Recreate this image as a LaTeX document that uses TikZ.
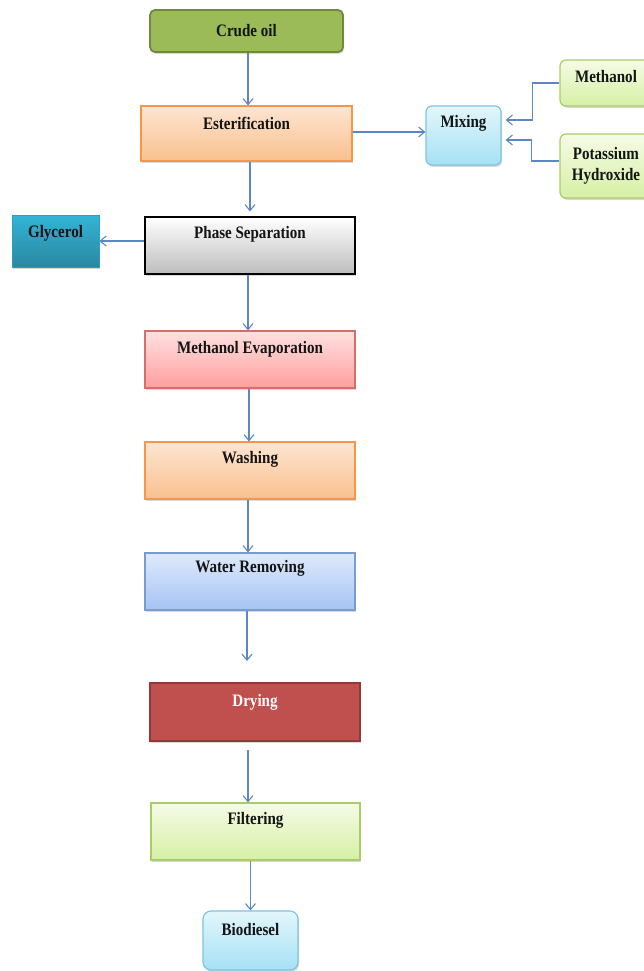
\documentclass[tikz,border=0pt]{standalone}
\usepackage{fontspec}
\setmainfont{Liberation Serif}[FakeStretch=0.86]
\usetikzlibrary{arrows.meta,shadows,calc}
\definecolor{arr}{RGB}{92,134,196}
\definecolor{crudeFill}{HTML}{9BBB59}\definecolor{crudeDraw}{HTML}{71893F}
\definecolor{orTop}{HTML}{FDE5D2}\definecolor{orBot}{HTML}{FAC08E}\definecolor{orDraw}{HTML}{F79646}
\definecolor{mxTop}{HTML}{E2F6FC}\definecolor{mxBot}{HTML}{A6E1F5}\definecolor{mxDraw}{HTML}{80C4DA}
\definecolor{grTop}{HTML}{F5FBE6}\definecolor{grBot}{HTML}{D6F0A4}\definecolor{grDraw}{HTML}{A9CC6B}
\definecolor{glTop}{HTML}{33B4D7}\definecolor{glBot}{HTML}{2A88A0}\definecolor{glDraw}{HTML}{2E9EBD}
\definecolor{gyTop}{HTML}{FFFFFF}\definecolor{gyBot}{HTML}{BDBDBD}
\definecolor{pkTop}{HTML}{FFE1E1}\definecolor{pkBot}{HTML}{FF9E9E}\definecolor{pkDraw}{HTML}{D56F6C}
\definecolor{blTop}{HTML}{DFEAFC}\definecolor{blBot}{HTML}{A5C3F4}\definecolor{blDraw}{HTML}{7A9BCD}
\definecolor{dryFill}{HTML}{C0504D}\definecolor{dryDraw}{HTML}{8E3A38}
\definecolor{txt}{HTML}{141414}
\tikzset{
  box/.style={draw, line width=1.2pt, inner sep=0pt, anchor=center,
    drop shadow={opacity=0.3, shadow xshift=1.2pt, shadow yshift=-1.8pt}},
  boxfont/.style={font=\fontsize{17.5}{21}\selectfont\bfseries, text=txt},
  lbl/.style={anchor=center, yshift=-18pt, boxfont},
  conn/.style={draw=arr, line width=1.1pt, -{Straight Barb[length=6pt,width=10pt,line width=1.1pt]}},
  orange/.style={box, top color=orTop, bottom color=orBot, draw=orDraw},
  mixbox/.style={box, rounded corners=6pt, top color=mxTop, bottom color=mxBot, draw=mxDraw},
  greenbox/.style={box, rounded corners=6pt, top color=grTop, bottom color=grBot, draw=grDraw},
}
\begin{document}
\begin{tikzpicture}[x=1pt,y=-1pt]
\useasboundingbox[fill=white] (0,0) rectangle (644,971);

\node[box, rounded corners=5pt, fill=crudeFill, draw=crudeDraw, line width=1.8pt,
      minimum width=193pt, minimum height=42pt, boxfont] (crude) at (246.5,31) {Crude oil};
\node[orange, minimum width=211pt, minimum height=55pt,
      label={[lbl]north:Esterification}] (est) at (246.5,133.5) {};
\node[mixbox, minimum width=75pt, minimum height=59pt,
      label={[lbl]north:Mixing}] (mix) at (463.5,135.5) {};
\node[greenbox, minimum width=92pt, minimum height=46pt,
      label={[lbl,yshift=1pt]north:Methanol}] (meth) at (606,83) {};
\node[greenbox, minimum width=92pt, minimum height=64pt, boxfont, align=center]
      (pot) at (606,166) {Potassium\\Hydroxide};
\node[box, top color=glTop, bottom color=glBot, draw=glDraw, line width=0.8pt,
      minimum width=87pt, minimum height=52pt,
      label={[lbl,yshift=-1pt]north:Glycerol}] (gly) at (55.5,241) {};
\node[box, top color=gyTop, bottom color=gyBot, draw=black,
      minimum width=210pt, minimum height=57pt,
      label={[lbl]north:Phase Separation}] (phase) at (250,245.5) {};
\node[box, top color=pkTop, bottom color=pkBot, draw=pkDraw,
      minimum width=210pt, minimum height=57pt,
      label={[lbl,yshift=-1pt]north:Methanol Evaporation}] (evap) at (250,359.5) {};
\node[orange, minimum width=210pt, minimum height=57pt,
      label={[lbl]north:Washing}] (wash) at (250,470.5) {};
\node[box, top color=blTop, bottom color=blBot, draw=blDraw,
      minimum width=210pt, minimum height=57pt,
      label={[lbl,yshift=2pt]north:Water Removing}] (water) at (250,581.5) {};
\node[box, fill=dryFill, draw=dryDraw, line width=1.8pt,
      minimum width=210pt, minimum height=58pt,
      label={[lbl,yshift=-2pt,text=white]north:Drying}] (dry) at (255,712) {};
\node[box, top color=grTop, bottom color=grBot, draw=grDraw,
      minimum width=209pt, minimum height=57pt,
      label={[lbl]north:Filtering}] (filt) at (255.5,831.5) {};
\node[mixbox, rounded corners=8pt, minimum width=95pt, minimum height=59pt,
      label={[lbl,yshift=-1pt]north:Biodiesel}] (bio) at (250.5,940.5) {};

\coordinate (c1) at (247,661);
\coordinate (c2) at (248,750);

\draw[conn] ($(crude.south)+(1.5,0)$) -- ($(est.north)+(1.5,0)$);
\draw[conn] (est.east |- 0,132) -- (mix.west |- 0,132);
\draw[conn] (meth.west) -- ++(-27,0) |- ([yshift=15.5pt,xshift=4pt]mix.east);
\draw[conn] ([yshift=5pt]pot.west) -- ++(-28,0) |- ([yshift=-4.5pt,xshift=4pt]mix.east);
\draw[conn] ($(est.south)+(3.5,0)$) -- ($(phase.north)+(0,-5)$);
\draw[conn] ([yshift=4.5pt]phase.west) -- (gly.east);
\draw[conn] ($(phase.south)+(-2,0)$) -- ($(evap.north)+(-2,0)$);
\draw[conn] ($(evap.south)+(-1,0)$) -- ($(wash.north)+(-1,0)$);
\draw[conn] ($(wash.south)+(-2,0)$) -- ($(water.north)+(-2,0)$);
\draw[conn] (c1 |- water.south) -- (c1);
\draw[conn] (c2) -- (c2 |- filt.north);
\draw[conn] (bio.north |- filt.south) -- (bio.north);
\end{tikzpicture}
\end{document}
